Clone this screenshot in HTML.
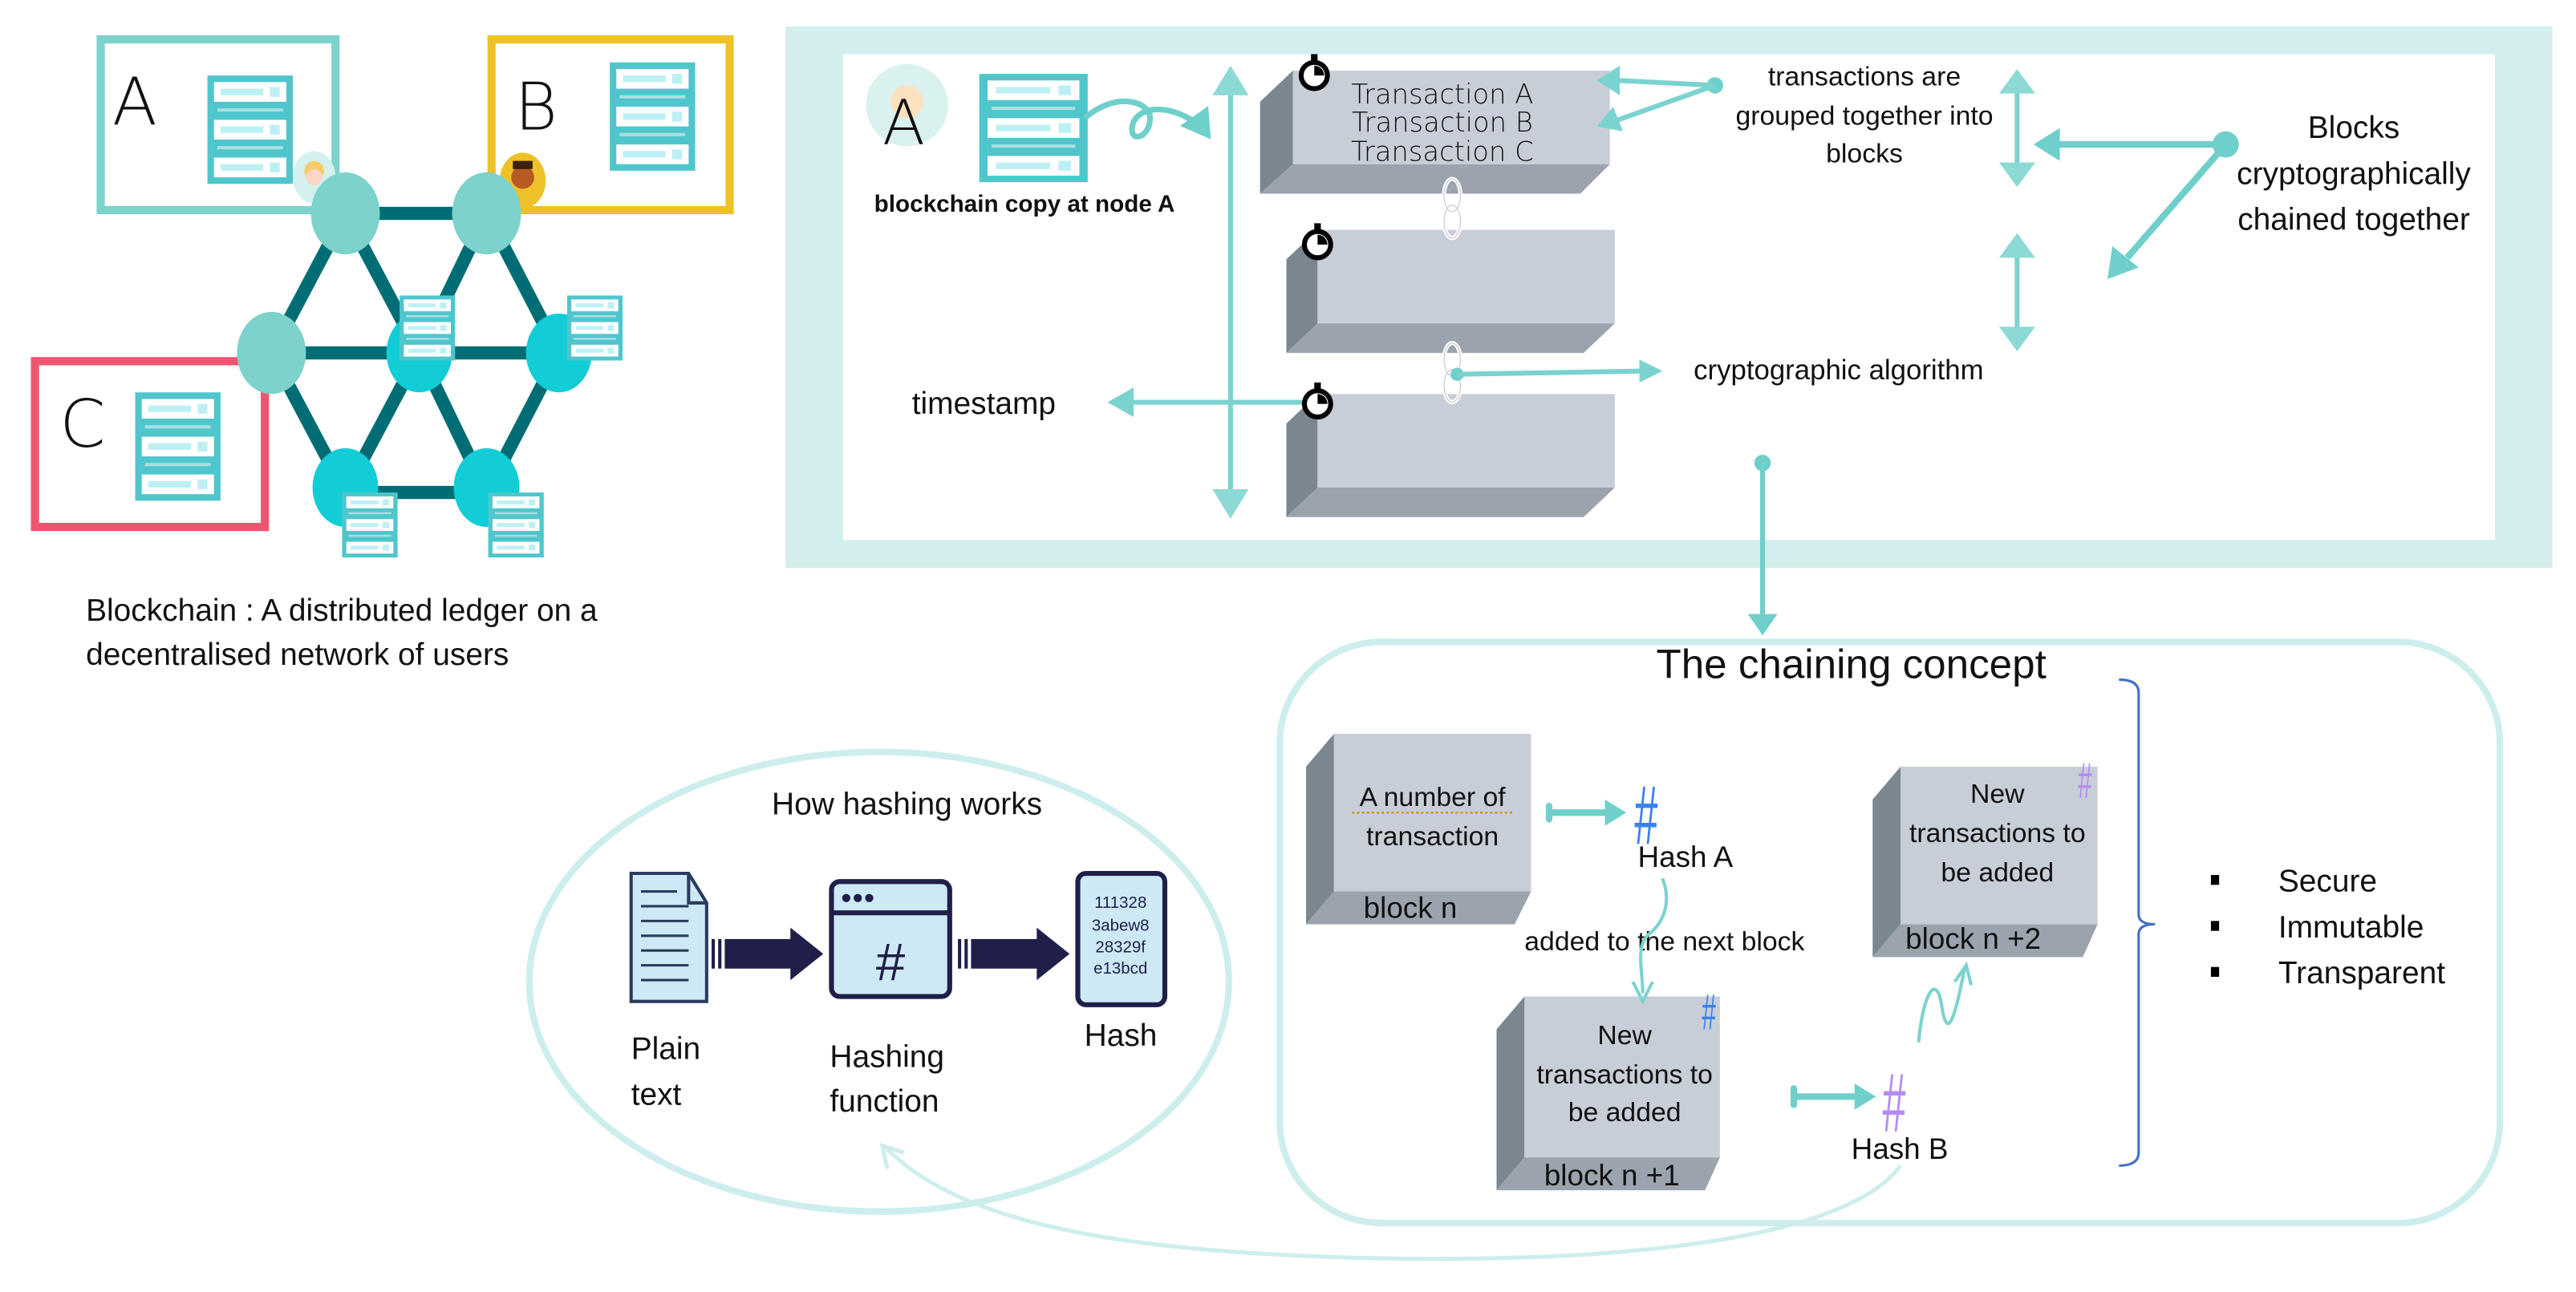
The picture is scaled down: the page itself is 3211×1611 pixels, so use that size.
<!DOCTYPE html>
<html><head><meta charset="utf-8"><style>
html,body{margin:0;padding:0;background:#fff;}
svg{display:block;}
text{font-family:"Liberation Sans Narrow","Liberation Sans",sans-serif;fill:#111;}
</style></head><body>
<svg width="3211" height="1611" viewBox="0 0 1568 787" xmlns="http://www.w3.org/2000/svg">
<defs>
<g id="srv">
 <rect x="0" y="0" width="52" height="66" fill="#4fc6cc"/>
 <rect x="4" y="4" width="44" height="12" fill="#fff"/><rect x="8" y="8" width="26" height="4" fill="#bdf0f4"/><rect x="38" y="7" width="6" height="6" fill="#bdf0f4"/>
 <rect x="4" y="27" width="44" height="12" fill="#fff"/><rect x="8" y="31" width="26" height="4" fill="#bdf0f4"/><rect x="38" y="30" width="6" height="6" fill="#bdf0f4"/>
 <rect x="4" y="50" width="44" height="12" fill="#fff"/><rect x="8" y="54" width="26" height="4" fill="#bdf0f4"/><rect x="38" y="53" width="6" height="6" fill="#bdf0f4"/>
 <rect x="6" y="20" width="40" height="2" fill="#a9dfe2"/><rect x="6" y="43" width="40" height="2" fill="#a9dfe2"/>
</g>
<marker id="ahs" markerWidth="6" markerHeight="6" refX="4" refY="3" orient="auto" markerUnits="strokeWidth"><path d="M0,0 L5,3 L0,6 Z" fill="#6fcfcb"/></marker>
<g id="watch"><circle cx="0" cy="0" r="8" fill="#fff" stroke="#000" stroke-width="3"/><rect x="-2" y="-13" width="4" height="4" fill="#000"/><path d="M0,0 L0,-6 A6,6 0 0 1 6,0 Z" fill="#000"/></g>
<g id="chain"><ellipse cx="0" cy="-8" rx="5" ry="10" fill="none" stroke="#fff" stroke-width="2.5"/><ellipse cx="0" cy="8" rx="5" ry="10" fill="none" stroke="#fff" stroke-width="2.5"/><ellipse cx="0" cy="-8" rx="5" ry="10" fill="none" stroke="#ccc" stroke-width="0.6"/><ellipse cx="0" cy="8" rx="5" ry="10" fill="none" stroke="#ccc" stroke-width="0.6"/></g>
</defs>

<!-- left network -->
<rect x="61" y="24" width="143" height="104" fill="none" stroke="#7dd2cc" stroke-width="5"/>
<rect x="299" y="24" width="145" height="104" fill="none" stroke="#efc128" stroke-width="5"/>
<rect x="21" y="220" width="140" height="101" fill="none" stroke="#ef5570" stroke-width="5"/>
<text x="68" y="76" font-size="40" style="font-family:'DejaVu Sans',sans-serif;font-weight:200">A</text>
<text x="313" y="79" font-size="40" style="font-family:'DejaVu Sans',sans-serif;font-weight:200">B</text>
<text x="36" y="272" font-size="40" style="font-family:'DejaVu Sans',sans-serif;font-weight:200">C</text>
<use href="#srv" x="126" y="46"/>
<use href="#srv" x="371" y="38"/>
<use href="#srv" x="82" y="239"/>
<ellipse cx="191" cy="108" rx="13" ry="16" fill="#d5f1ef"/><circle cx="191" cy="104" r="6" fill="#f6cc6a"/><circle cx="191" cy="108" r="5" fill="#fbd5c5"/>
<ellipse cx="318" cy="110" rx="14" ry="17" fill="#efc128"/><circle cx="318" cy="108" r="7" fill="#b75b23"/><rect x="312" y="98" width="12" height="5" fill="#3a2010"/>
<g stroke="#006d75" stroke-width="8">
<line x1="210" y1="130" x2="296" y2="130"/><line x1="165" y1="215" x2="340" y2="215"/><line x1="210" y1="300" x2="296" y2="300"/>
<line x1="210" y1="130" x2="165" y2="215"/><line x1="210" y1="130" x2="255" y2="215"/><line x1="296" y1="130" x2="255" y2="215"/><line x1="296" y1="130" x2="340" y2="215"/>
<line x1="165" y1="215" x2="210" y2="300"/><line x1="255" y1="215" x2="210" y2="300"/><line x1="255" y1="215" x2="296" y2="300"/><line x1="340" y1="215" x2="296" y2="300"/>
</g>
<ellipse cx="210" cy="130" rx="21" ry="25" fill="#7dd2cc"/><ellipse cx="296" cy="130" rx="21" ry="25" fill="#7dd2cc"/><ellipse cx="165" cy="215" rx="21" ry="25" fill="#7dd2cc"/>
<ellipse cx="255" cy="215" rx="20" ry="24" fill="#12cdd6"/><ellipse cx="340" cy="215" rx="20" ry="24" fill="#12cdd6"/>
<ellipse cx="210" cy="297" rx="20" ry="24" fill="#12cdd6"/><ellipse cx="296" cy="297" rx="20" ry="24" fill="#12cdd6"/>
<use href="#srv" transform="translate(243,180) scale(0.65,0.6)"/>
<use href="#srv" transform="translate(345,180) scale(0.65,0.6)"/>
<use href="#srv" transform="translate(208,300) scale(0.65,0.6)"/>
<use href="#srv" transform="translate(297,300) scale(0.65,0.6)"/>
<text x="52" y="378" font-size="19">Blockchain : A distributed ledger on a</text>
<text x="52" y="405" font-size="19">decentralised network of users</text>

<!-- top panel -->
<rect x="478" y="16" width="1076" height="330" fill="#d2efed"/>
<rect x="513" y="33" width="1006" height="296" fill="#fff"/>
<ellipse cx="552" cy="64" rx="25" ry="25" fill="#d9f1ef"/><circle cx="552" cy="62" r="10" fill="#fbe1c0"/>
<text x="537" y="88" font-size="38" style="font-family:'DejaVu Sans',sans-serif;font-weight:200">A</text>
<use href="#srv" transform="translate(596,45) scale(1.27,1)"/>
<text x="532" y="129" font-size="14.5" font-weight="bold">blockchain copy at node A</text>
<path d="M660,72 C680,55 700,62 700,72 C700,85 685,88 690,74 C698,60 725,68 735,82" fill="none" stroke="#6fcfcb" stroke-width="3.5" marker-end="url(#ahs)"/>

<line x1="749" y1="58" x2="749" y2="300" stroke="#7bd3cf" stroke-width="3"/>
<path d="M738,58 L749,40 L760,58 Z" fill="#8dd9d5"/><path d="M738,298 L749,316 L760,298 Z" fill="#8dd9d5"/>
<line x1="690" y1="245" x2="795" y2="245" stroke="#7bd3cf" stroke-width="3"/>
<path d="M690,236 L674,245 L690,254 Z" fill="#7bd3cf"/>
<text x="555" y="252" font-size="19">timestamp</text>

<g>
<polygon points="767,62 787,43 787,100 767,118" fill="#7a8690"/>
<rect x="787" y="43" width="193" height="57" fill="#c8ced8"/>
<polygon points="767,118 787,100 980,100 962,118" fill="#9ba4ae"/>
</g>
<g>
<polygon points="783,158 802,140 802,197 783,215" fill="#7a8690"/>
<rect x="802" y="140" width="181" height="57" fill="#c8ced8"/>
<polygon points="783,215 802,197 983,197 964,215" fill="#9ba4ae"/>
</g>
<g>
<polygon points="783,258 802,240 802,297 783,315" fill="#7a8690"/>
<rect x="802" y="240" width="181" height="57" fill="#c8ced8"/>
<polygon points="783,315 802,297 983,297 964,315" fill="#9ba4ae"/>
</g>
<text x="878" y="63" font-size="16.5" text-anchor="middle" style="font-family:'DejaVu Sans',sans-serif;font-weight:200">Transaction A</text>
<text x="878" y="80" font-size="16.5" text-anchor="middle" style="font-family:'DejaVu Sans',sans-serif;font-weight:200">Transaction B</text>
<text x="878" y="98" font-size="16.5" text-anchor="middle" style="font-family:'DejaVu Sans',sans-serif;font-weight:200">Transaction C</text>
<use href="#watch" x="800" y="46"/><use href="#watch" x="802" y="149"/><use href="#watch" x="802" y="246"/>
<use href="#chain" x="884" y="127"/><use href="#chain" x="884" y="227"/>
<circle cx="887" cy="228" r="4" fill="#6fcfcb"/>
<line x1="887" y1="228" x2="1000" y2="226" stroke="#7bd3cf" stroke-width="3"/>
<path d="M998,219 L1012,226 L998,233 Z" fill="#7bd3cf"/>
<text x="1031" y="231" font-size="17">cryptographic algorithm</text>

<circle cx="1044" cy="52" r="5" fill="#6fcfcb"/>
<line x1="1044" y1="52" x2="985" y2="49" stroke="#7bd3cf" stroke-width="3"/>
<line x1="1044" y1="52" x2="985" y2="73" stroke="#7bd3cf" stroke-width="3"/>
<path d="M986,40 L972,49 L986,58 Z" fill="#7bd3cf"/>
<path d="M982,65 L972,77 L988,80 Z" fill="#7bd3cf"/>
<text x="1135" y="52" font-size="16.5" text-anchor="middle">transactions are</text>
<text x="1135" y="76" font-size="16.5" text-anchor="middle">grouped together into</text>
<text x="1135" y="99" font-size="16.5" text-anchor="middle">blocks</text>

<line x1="1228" y1="56" x2="1228" y2="100" stroke="#7bd3cf" stroke-width="3"/>
<path d="M1217,57 L1228,42 L1239,57 Z" fill="#8dd9d5"/><path d="M1217,99 L1228,114 L1239,99 Z" fill="#8dd9d5"/>
<line x1="1228" y1="156" x2="1228" y2="200" stroke="#7bd3cf" stroke-width="3"/>
<path d="M1217,157 L1228,142 L1239,157 Z" fill="#8dd9d5"/><path d="M1217,199 L1228,214 L1239,199 Z" fill="#8dd9d5"/>
<circle cx="1355" cy="88" r="8" fill="#6fcfcb"/>
<line x1="1355" y1="88" x2="1252" y2="88" stroke="#6fcfcb" stroke-width="4"/>
<path d="M1254,78 L1238,88 L1254,98 Z" fill="#6fcfcb"/>
<line x1="1355" y1="88" x2="1295" y2="157" stroke="#6fcfcb" stroke-width="4"/>
<path d="M1286,150 L1283,170 L1302,163 Z" fill="#6fcfcb"/>
<text x="1433" y="84" font-size="19" text-anchor="middle">Blocks</text>
<text x="1433" y="112" font-size="19" text-anchor="middle">cryptographically</text>
<text x="1433" y="140" font-size="19" text-anchor="middle">chained together</text>

<circle cx="1073" cy="282" r="5" fill="#6fcfcb"/>
<line x1="1073" y1="282" x2="1073" y2="374" stroke="#6fcfcb" stroke-width="3"/>
<path d="M1064,374 L1073,387 L1082,374 Z" fill="#6fcfcb"/>

<!-- chaining concept -->
<rect x="779" y="391" width="743" height="354" rx="62" fill="none" stroke="#cdeeed" stroke-width="4"/>
<text x="1127" y="413" font-size="25" text-anchor="middle">The chaining concept</text>
<path d="M1290,414 Q1302,414 1302,422 L1302,557 Q1302,563 1312,563 Q1302,563 1302,569 L1302,702 Q1302,710 1290,710" fill="none" stroke="#4472c4" stroke-width="1.5"/>
<rect x="1346" y="533" width="5" height="6" fill="#000"/><rect x="1346" y="561" width="5" height="6" fill="#000"/><rect x="1346" y="589" width="5" height="6" fill="#000"/>
<text x="1387" y="543" font-size="19">Secure</text>
<text x="1387" y="571" font-size="19">Immutable</text>
<text x="1387" y="599" font-size="19">Transparent</text>

<polygon points="795,467 812,447 812,543 795,563" fill="#7a8690"/>
<rect x="812" y="447" width="120" height="96" fill="#c8ced8"/>
<polygon points="795,563 812,543 932,543 922,563" fill="#9ba4ae"/>
<text x="872" y="491" font-size="16.5" text-anchor="middle">A number of</text>
<line x1="823" y1="495" x2="922" y2="495" stroke="#c9961e" stroke-width="1.2" stroke-dasharray="1.5,1.5"/>
<text x="872" y="515" font-size="16.5" text-anchor="middle">transaction</text>
<text x="830" y="559" font-size="18">block n</text>
<polygon points="911,627 928,607 928,705 911,725" fill="#7a8690"/>
<rect x="928" y="607" width="119" height="98" fill="#c8ced8"/>
<polygon points="911,725 928,705 1047,705 1038,725" fill="#9ba4ae"/>
<text x="989" y="636" font-size="16.5" text-anchor="middle">New</text>
<text x="989" y="660" font-size="16.5" text-anchor="middle">transactions to</text>
<text x="989" y="683" font-size="16.5" text-anchor="middle">be added</text>
<text x="940" y="722" font-size="18">block n +1</text>
<polygon points="1140,487 1157,467 1157,563 1140,583" fill="#7a8690"/>
<rect x="1157" y="467" width="120" height="96" fill="#c8ced8"/>
<polygon points="1140,583 1157,563 1277,563 1268,583" fill="#9ba4ae"/>
<text x="1216" y="489" font-size="16.5" text-anchor="middle">New</text>
<text x="1216" y="513" font-size="16.5" text-anchor="middle">transactions to</text>
<text x="1216" y="537" font-size="16.5" text-anchor="middle">be added</text>
<text x="1160" y="578" font-size="18">block n +2</text>

<line x1="944" y1="495" x2="978" y2="495" stroke="#6fcfcb" stroke-width="4"/>
<path d="M977,487 L990,495 L977,503 Z" fill="#6fcfcb"/><rect x="941" y="489" width="4" height="12" rx="2" fill="#6fcfcb"/>
<text transform="translate(995,514) scale(0.75,1.5)" font-size="34" style="fill:#3b82f0;font-family:'Liberation Sans',sans-serif">#</text>
<text x="997" y="528" font-size="18">Hash A</text>
<text transform="translate(1036,627) scale(0.7,1.4)" font-size="22" style="fill:#3b82f0">#</text>
<text transform="translate(1265,486) scale(0.7,1.4)" font-size="22" style="fill:#b48cf5">#</text>
<line x1="1092" y1="668" x2="1130" y2="668" stroke="#6fcfcb" stroke-width="4"/>
<path d="M1129,660 L1142,668 L1129,676 Z" fill="#6fcfcb"/><rect x="1090" y="661" width="4" height="14" rx="2" fill="#6fcfcb"/>
<text transform="translate(1146,689) scale(0.75,1.5)" font-size="34" style="fill:#b48cf5">#</text>
<text x="1127" y="706" font-size="18">Hash B</text>
<text x="928" y="579" font-size="16.5">added to the next block</text>
<path d="M1012,535 C1018,550 1012,562 1005,568 C995,575 1000,590 1000,605" fill="none" stroke="#7bd3cf" stroke-width="2"/>
<path d="M994,598 L1000,610 L1006,598" fill="none" stroke="#7bd3cf" stroke-width="2"/>
<path d="M1168,635 C1170,610 1178,590 1182,612 C1186,640 1192,610 1196,590" fill="none" stroke="#7bd3cf" stroke-width="2"/>
<path d="M1190,598 L1197,588 L1200,600" fill="none" stroke="#7bd3cf" stroke-width="2"/>
<path d="M1157,710 C1120,760 960,770 820,766 C700,762 590,750 540,700" fill="none" stroke="#cdeeed" stroke-width="2.5"/>
<path d="M540,712 L537,698 L550,702" fill="none" stroke="#cdeeed" stroke-width="2.5"/>

<!-- hashing ellipse -->
<ellipse cx="535" cy="598" rx="213" ry="140" fill="none" stroke="#cdeeed" stroke-width="4"/>
<text x="552" y="496" font-size="19" text-anchor="middle">How hashing works</text>
<path d="M384,532 L419,532 L430,550 L430,610 L384,610 Z" fill="#cde9f5" stroke="#2b3a5e" stroke-width="2"/>
<path d="M419,532 L419,550 L430,550" fill="none" stroke="#2b3a5e" stroke-width="2"/>
<g stroke="#2b3a5e" stroke-width="1.5"><line x1="390" y1="543" x2="412" y2="543"/><line x1="390" y1="552" x2="419" y2="552"/><line x1="390" y1="561" x2="419" y2="561"/><line x1="390" y1="570" x2="419" y2="570"/><line x1="390" y1="579" x2="419" y2="579"/><line x1="390" y1="588" x2="419" y2="588"/><line x1="390" y1="597" x2="419" y2="597"/></g>
<rect x="506" y="537" width="72" height="70" rx="5" fill="#cde9f5" stroke="#1f1f4a" stroke-width="3"/>
<line x1="506" y1="556" x2="578" y2="556" stroke="#1f1f4a" stroke-width="3"/>
<circle cx="515" cy="547" r="2.5" fill="#1f1f4a"/><circle cx="522" cy="547" r="2.5" fill="#1f1f4a"/><circle cx="529" cy="547" r="2.5" fill="#1f1f4a"/>
<text x="542" y="597" font-size="32" text-anchor="middle" style="fill:#1f1f4a;font-family:'Liberation Sans',sans-serif">#</text>
<rect x="656" y="532" width="53" height="80" rx="5" fill="#cde9f5" stroke="#1f1f4a" stroke-width="3"/>
<g font-size="10" text-anchor="middle"><text x="682" y="553" style="fill:#1f1f4a">111328</text><text x="682" y="567" style="fill:#1f1f4a">3abew8</text><text x="682" y="580" style="fill:#1f1f4a">28329f</text><text x="682" y="593" style="fill:#1f1f4a">e13bcd</text></g>
<g fill="#1f1f4a"><rect x="433" y="572" width="2" height="18"/><rect x="437" y="572" width="2" height="18"/><rect x="441" y="572" width="42" height="18"/><path d="M481,565 L501,581 L481,597 Z"/>
<rect x="583" y="572" width="2" height="18"/><rect x="587" y="572" width="2" height="18"/><rect x="591" y="572" width="42" height="18"/><path d="M631,565 L651,581 L631,597 Z"/></g>
<text x="384" y="645" font-size="19">Plain</text>
<text x="384" y="673" font-size="19">text</text>
<text x="505" y="650" font-size="19">Hashing</text>
<text x="505" y="677" font-size="19">function</text>
<text x="660" y="637" font-size="19">Hash</text>
</svg>
</body></html>
